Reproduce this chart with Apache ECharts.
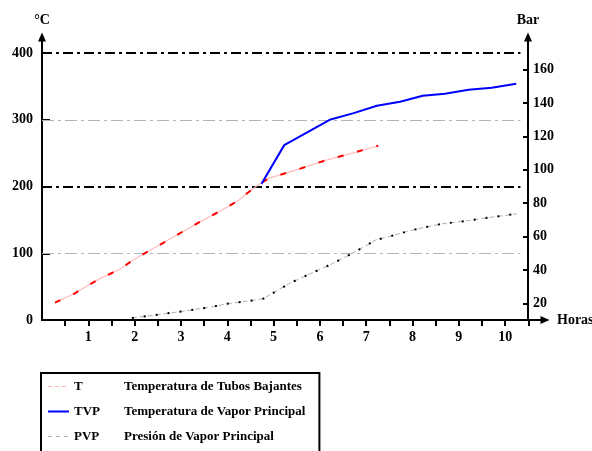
<!DOCTYPE html>
<html>
<head>
<meta charset="utf-8">
<script src="https://cdn.jsdelivr.net/npm/echarts@6/dist/echarts.min.js"></script>
<style>html,body{margin:0;padding:0;background:#fff}#c{width:592px;height:451px}</style>
</head>
<body>
<div id="c"></div>
<script>
// ---- data ----
const tHours = [0.28, 0.71, 0.97, 1.25, 1.68, 1.97, 2.40, 2.98, 3.41, 3.84, 4.24, 4.45, 4.70, 4.92, 5.36, 6.16, 6.80, 7.26];
const tVals  = [26, 40, 51, 62, 76, 90, 107, 130, 147, 163, 179, 191, 204, 213, 222, 240, 252, 261];
const tvpHours = [4.74, 5.23, 6.21, 6.73, 7.23, 7.73, 8.22, 8.70, 9.21, 9.71, 10.24];
const tvpVals  = [204, 262, 300, 310, 321, 327, 336, 339, 345, 348, 354];
const pvpHours = [1.94, 2.51, 3.13, 3.70, 3.97, 4.56, 4.78, 4.99, 5.36, 5.75, 6.15, 6.58, 6.98, 7.19, 7.52, 7.95, 8.38, 8.63, 9.21, 9.86, 10.25];
const pvpVals  = [11.2, 13.2, 15.6, 18, 19.6, 21.8, 22.8, 26.2, 32.2, 37.2, 42.2, 48.2, 54.2, 57.8, 60.2, 63.6, 66.2, 67.6, 69.6, 72.2, 73.6];
const xTickLabels = [1, 2, 3, 4, 5, 6, 7, 8, 9, 10];
const xTicks = [0.5, 1, 1.5, 2, 2.5, 3, 3.5, 4, 4.5, 5, 5.5, 6, 6.5, 7, 7.5, 8, 8.5, 9, 9.5, 10, 10.5];
const leftTicks = [0, 100, 200, 300, 400];
const rightTicks = [20, 40, 60, 80, 100, 120, 140, 160];
const refStrong = [400, 200];
const refLight = [300, 100];
const legendCodes = ['T', 'TVP', 'PVP'];
const legendDescs = ['Temperatura de Tubos Bajantes', 'Temperatura de Vapor Principal', 'Presión de Vapor Principal'];

const zip = (a, b) => a.map((v, i) => [v, b[i]]);
const FONT = 'Liberation Serif';
const leftMax = 424, rightMin = 10, rightMax = rightMin + leftMax / 2.5;
const refEnd = 10.33;

const markData = [];
refStrong.forEach(v => markData.push([{coord: [0, v], lineStyle: {color: '#000', width: 2, type: [10, 4, 3, 4]}}, {coord: [refEnd, v]}]));
refLight.forEach(v => markData.push([{coord: [0, v], lineStyle: {color: '#b4b4b4', width: 1, type: [12, 4, 3, 4]}}, {coord: [refEnd, v]}]));

const descMap = {};
legendCodes.forEach((c, i) => descMap[c] = legendDescs[i]);

const chart = echarts.init(document.getElementById('c'));
chart.setOption({
  animation: false,
  backgroundColor: '#fff',
  textStyle: {fontFamily: FONT},
  grid: {left: 42, right: 47, top: 37, bottom: 131, containLabel: false, outerBoundsMode: 'none'},
  xAxis: {
    type: 'value', min: 0, max: 10.86,
    name: 'Horas', nameLocation: 'end', nameGap: 12,
    nameTextStyle: {fontFamily: FONT, fontWeight: 'bold', fontSize: 14, color: '#000'},
    axisLine: {show: true, lineStyle: {color: '#000', width: 2}, symbol: ['none', 'triangle'], symbolSize: [8, 9]},
    axisTick: {show: true, inside: false, length: 6, lineStyle: {color: '#000', width: 2}, customValues: xTicks},
    axisLabel: {fontFamily: FONT, fontWeight: 'bold', fontSize: 14, color: '#000', margin: 10, customValues: xTickLabels},
    splitLine: {show: false}
  },
  yAxis: [
    {
      type: 'value', min: 0, max: leftMax, position: 'left',
      name: '°C', nameLocation: 'end', nameGap: 10,
      nameTextStyle: {fontFamily: FONT, fontWeight: 'bold', fontSize: 14, color: '#000'},
      axisLine: {show: true, lineStyle: {color: '#000', width: 2}, symbol: ['none', 'triangle'], symbolSize: [8, 9]},
      axisTick: {show: true, inside: true, length: 8, lineStyle: {color: '#000', width: 2}, customValues: leftTicks},
      axisLabel: {fontFamily: FONT, fontWeight: 'bold', fontSize: 14, color: '#000', margin: 9, customValues: leftTicks},
      splitLine: {show: false}
    },
    {
      type: 'value', min: rightMin, max: rightMax, position: 'right', offset: -17,
      name: 'Bar', nameLocation: 'end', nameGap: 10,
      nameTextStyle: {fontFamily: FONT, fontWeight: 'bold', fontSize: 14, color: '#000'},
      axisLine: {show: true, lineStyle: {color: '#000', width: 2}, symbol: ['none', 'triangle'], symbolSize: [8, 9]},
      axisTick: {show: true, inside: true, length: 5, lineStyle: {color: '#000', width: 2}, customValues: rightTicks},
      axisLabel: {fontFamily: FONT, fontWeight: 'bold', fontSize: 14, color: '#000', margin: 5, customValues: rightTicks},
      splitLine: {show: false}
    }
  ],
  legend: {
    orient: 'vertical', left: 41, top: 373, height: 140,
    padding: [7, 14, 30, 6],
    borderColor: '#000', borderWidth: 2, backgroundColor: '#fff',
    itemWidth: 21, itemHeight: 14, itemGap: 12,
    data: [
      {name: 'T', itemStyle: {opacity: 0}, lineStyle: {color: '#ffb4b4', width: 1, type: [4, 3]}},
      {name: 'TVP', itemStyle: {opacity: 0}, lineStyle: {color: '#0000ff', width: 2, type: 'solid'}},
      {name: 'PVP', itemStyle: {opacity: 0}, lineStyle: {color: '#b0b0b0', width: 1, type: [4, 4]}}
    ],
    formatter: n => `{a|${n}}{b|${descMap[n]}}`,
    textStyle: {
      fontFamily: FONT, fontWeight: 'bold', fontSize: 13, color: '#000',
      rich: {
        a: {width: 50, fontFamily: FONT, fontWeight: 'bold', fontSize: 13, color: '#000', lineHeight: 15},
        b: {fontFamily: FONT, fontWeight: 'bold', fontSize: 13, color: '#000', lineHeight: 15}
      }
    }
  },
  series: [
    {
      name: 'T', type: 'line', yAxisIndex: 0, data: zip(tHours, tVals),
      symbol: 'none', lineStyle: {color: '#ffbcbc', width: 1.2}, color: '#ffbcbc', z: 3,
      markLine: {silent: true, symbol: 'none', label: {show: false}, data: markData, z: 1}
    },
    {
      name: 'T-dash', type: 'line', yAxisIndex: 0, data: zip(tHours, tVals),
      symbol: 'none', lineStyle: {color: '#ff0000', width: 2, type: [6, 14]}, z: 4
    },
    {
      name: 'TVP', type: 'line', yAxisIndex: 0, data: zip(tvpHours, tvpVals),
      symbol: 'none', lineStyle: {color: '#0000ff', width: 2}, color: '#0000ff', z: 5
    },
    {
      name: 'PVP', type: 'line', yAxisIndex: 1, data: zip(pvpHours, pvpVals),
      symbol: 'none', lineStyle: {color: '#b0b0b0', width: 1, type: [5, 3]}, color: '#b0b0b0', z: 3
    },
    {
      name: 'PVP-dot', type: 'line', yAxisIndex: 1, data: zip(pvpHours, pvpVals),
      symbol: 'none', lineStyle: {color: '#000', width: 2, type: [2, 10]}, z: 4
    }
  ]
});
</script>
</body>
</html>
